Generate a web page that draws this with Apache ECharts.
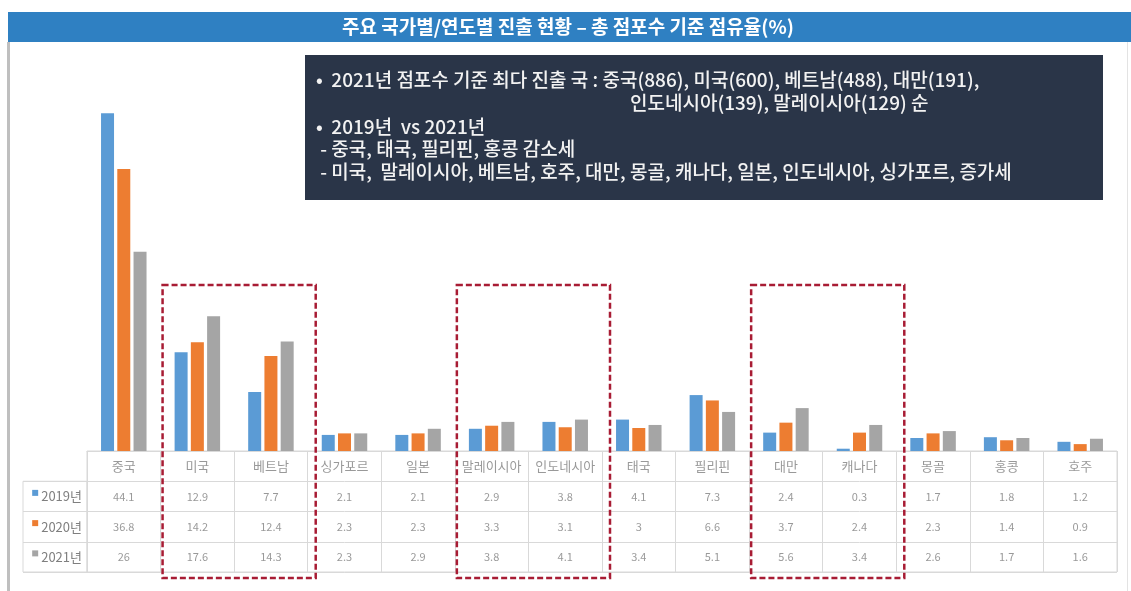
<!DOCTYPE html>
<html>
<head>
<meta charset="utf-8">
<script src="https://cdn.jsdelivr.net/npm/echarts@6/dist/echarts.min.js"></script>
<style>
  html, body { margin: 0; padding: 0; background: #fff; }
  #chart { width: 1131px; height: 591px; }
</style>
</head>
<body>
<div id="chart"></div>
<script>
const categories = ['중국', '미국', '베트남', '싱가포르', '일본', '말레이시아', '인도네시아', '태국', '필리핀', '대만', '캐나다', '몽골', '홍콩', '호주'];
const years = ['2019년', '2020년', '2021년'];
const share2019 = [44.1, 12.9, 7.7, 2.1, 2.1, 2.9, 3.8, 4.1, 7.3, 2.4, 0.3, 1.7, 1.8, 1.2];
const share2020 = [36.8, 14.2, 12.4, 2.3, 2.3, 3.3, 3.1, 3, 6.6, 3.7, 2.4, 2.3, 1.4, 0.9];
const share2021 = [26, 17.6, 14.3, 2.3, 2.9, 3.8, 4.1, 3.4, 5.1, 5.6, 3.4, 2.6, 1.7, 1.6];
const highlightGroups = [['미국', '베트남'], ['말레이시아', '인도네시아'], ['대만', '캐나다']];

const titleText = '주요 국가별/연도별 진출 현황 – 총 점포수 기준 점유율(%)';
const noteLines = [
  '•  2021년 점포수 기준 최다 진출 국 : 중국(886), 미국(600), 베트남(488), 대만(191),',
  '인도네시아(139), 말레이시아(129) 순',
  '•  2019년  vs 2021년',
  ' - 중국, 태국, 필리핀, 홍콩 감소세',
  ' - 미국,  말레이시아, 베트남, 호주, 대만, 몽골, 캐나다, 일본, 인도네시아, 싱가포르, 증가세'
];

const colors = ['#5b9bd5', '#ed7d31', '#a5a5a5'];
const FONT = '"Noto Sans CJK KR", "Noto Sans", sans-serif';
const lineColor = '#d9d9d9';

// table cells: header row = category names, then one row per year
const rows = [categories, share2019, share2020, share2021];
const tableCells = [];
rows.forEach((row, r) => {
  row.forEach((v, i) => {
    tableCells.push({
      value: [i, r],
      label: { formatter: String(v), fontSize: r === 0 ? 13 : 11 }
    });
  });
});

const rich = { t: { fontSize: 13, color: '#7f7f7f', fontFamily: FONT, padding: [0, 0, 0, 3] } };
colors.forEach((c, i) => {
  rich['m' + i] = { width: 6, height: 6, backgroundColor: c, verticalAlign: 'top' };
});

const chart = echarts.init(document.getElementById('chart'));

const noteGraphics = noteLines.map((txt, i) => ({
  type: 'text',
  x: i === 1 ? 630 : 316,
  y: [80, 103, 127, 149, 172][i],
  style: { text: txt, fill: '#f2f2f2', font: '500 19px ' + FONT, textVerticalAlign: 'middle' }
}));

const option = {
  animation: false,
  textStyle: { fontFamily: FONT },
  grid: [
    { left: 87, right: 14, top: 68, height: 383 },
    { left: 87, right: 14, top: 451, height: 121, show: true, borderColor: lineColor, borderWidth: 1 },
    { left: 23, width: 64, top: 451 + 121 / 4, height: 121 * 3 / 4, show: true, borderColor: lineColor, borderWidth: 1 }
  ],
  xAxis: [
    {
      type: 'category', gridIndex: 0, data: categories,
      axisLine: { lineStyle: { color: lineColor } },
      axisTick: { show: false }, axisLabel: { show: false }
    },
    {
      type: 'category', gridIndex: 1, data: categories,
      axisLine: { show: false }, axisTick: { show: false }, axisLabel: { show: false },
      splitLine: { show: true, interval: 0, lineStyle: { color: lineColor } }
    },
    {
      type: 'category', gridIndex: 2, data: [''],
      axisLine: { show: false }, axisTick: { show: false }, axisLabel: { show: false }
    }
  ],
  yAxis: [
    { type: 'value', gridIndex: 0, min: 0, max: 50, show: false },
    {
      type: 'category', gridIndex: 1, data: [''].concat(years), inverse: true,
      axisLine: { show: false }, axisTick: { show: false },
      splitLine: { show: true, interval: 0, lineStyle: { color: lineColor } },
      axisLabel: {
        interval: 0, margin: 5, align: 'right',
        formatter: (v, idx) => (v ? '{m' + (idx - 1) + '|}{t|' + v + '}' : ''),
        rich: rich
      }
    },
    {
      type: 'category', gridIndex: 2, data: years, inverse: true,
      axisLine: { show: false }, axisTick: { show: false }, axisLabel: { show: false },
      splitLine: { show: true, interval: 0, lineStyle: { color: lineColor } }
    }
  ],
  series: [
    { name: '2019년', type: 'bar', data: share2019, itemStyle: { color: colors[0] }, barWidth: 13, barGap: '25%' },
    { name: '2020년', type: 'bar', data: share2020, itemStyle: { color: colors[1] }, barWidth: 13, barGap: '25%' },
    { name: '2021년', type: 'bar', data: share2021, itemStyle: { color: colors[2] }, barWidth: 13, barGap: '25%' },
    {
      type: 'scatter', xAxisIndex: 1, yAxisIndex: 1, data: tableCells,
      symbol: 'rect', symbolSize: 1, silent: true,
      itemStyle: { color: 'rgba(0,0,0,0)' },
      label: { show: true, position: 'inside', color: '#7f7f7f', fontFamily: FONT }
    }
  ],
  graphic: [
    { type: 'rect', shape: { x: 7, y: 42, width: 3, height: 549 }, style: { fill: '#bfbfbf' } },
    { type: 'rect', shape: { x: 1127, y: 42, width: 1, height: 549 }, style: { fill: '#e3e3e3' } },
    {
      type: 'rect', shape: { x: 8, y: 12, width: 1123, height: 30 }, style: { fill: '#2f80c2' }
    },
    {
      type: 'text', x: 568, y: 27,
      style: { text: titleText, fill: '#ffffff', font: 'bold 19px ' + FONT, textAlign: 'center', textVerticalAlign: 'middle' }
    },
    { type: 'rect', shape: { x: 305, y: 55, width: 798, height: 145 }, style: { fill: '#2a3548' } }
  ].concat(noteGraphics)
};

chart.setOption(option);

// dashed highlight boxes around category groups
const px = name => chart.convertToPixel({ xAxisIndex: 0 }, name);
const band = px(categories[1]) - px(categories[0]);
const boxes = highlightGroups.map(g => {
  const x0 = px(g[0]) - band / 2 + 2;
  const x1 = px(g[g.length - 1]) + band / 2 + 8;
  return {
    type: 'rect', z: 100,
    shape: { x: x0, y: 285, width: x1 - x0, height: 293 },
    style: { fill: 'none', stroke: '#a81c34', lineWidth: 2.5, lineDash: [6, 3] }
  };
});
chart.setOption({ graphic: option.graphic.concat(boxes) });
</script>
</body>
</html>
